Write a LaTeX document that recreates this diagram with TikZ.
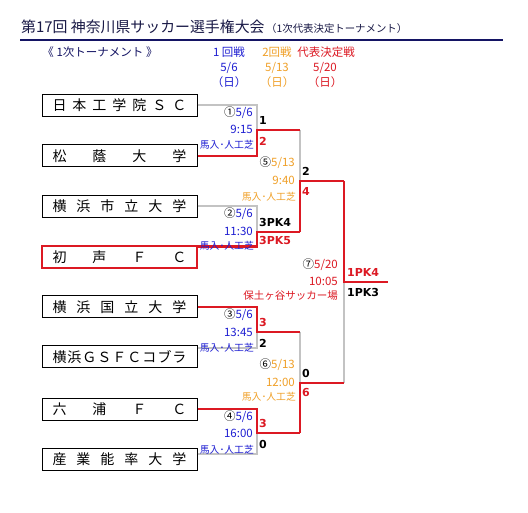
\documentclass[tikz,border=0pt]{standalone}
\usepackage{fontspec}
\setmainfont{Noto Sans CJK JP}
\newfontfamily\scorefont{DejaVu Sans}
\usetikzlibrary{calc}
\definecolor{navy}{RGB}{20,20,100}
\definecolor{titlec}{RGB}{25,25,70}
\definecolor{rblue}{RGB}{30,30,210}
\definecolor{rorange}{RGB}{240,160,40}
\definecolor{rred}{RGB}{220,25,35}
\definecolor{lgray}{RGB}{195,195,195}
\begin{document}
\begin{tikzpicture}[x=1pt,y=-1pt,
 teambox/.style={draw=black,line width=1pt,minimum width=155pt,minimum height=22pt,inner sep=0pt,font=\fontsize{14}{14}\selectfont},
 winbox/.style={teambox,draw=rred,line width=2.5pt},
 loser/.style={draw=lgray,line width=2pt},
 winner/.style={draw=rred,line width=2.5pt},
 info/.style={anchor=east,inner sep=0pt,font=\fontsize{11.5}{11.5}\selectfont},
 venue/.style={anchor=east,inner sep=0pt,font=\fontsize{9.8}{9.8}\selectfont},
 score/.style={anchor=west,inner sep=0pt,font=\scorefont\bfseries\fontsize{11}{11}\selectfont},
 head/.style={inner sep=0pt,font=\fontsize{11.5}{11.5}\selectfont},
]
\useasboundingbox[fill=white] (0,0) rectangle (528,513);

% title
\node[anchor=west,inner sep=0pt,text=titlec] (title) at (21,27)
  {{\fontsize{14.9}{15}\selectfont 第17回 神奈川県サッカー選手権大会}\,{\fontsize{10.4}{11}\selectfont （1次代表決定トーナメント）}};
\coordinate (ulA) at (20,40);
\coordinate (ulB) at (503,40);
\draw[navy,line width=2.5pt] (ulA) -- (ulB);

% headers
\node[head,text=navy] (hA) at (100,52) {《 1次トーナメント 》};
\node[head,text=rblue] (h1a) at (229,52) {1 回戦};
\node[head,text=rblue] (h1b) at (229,68) {5/6};
\node[head,text=rblue] (h1c) at (229,82) {（日）};
\node[head,text=rorange] (h2a) at (277,52) {2回戦};
\node[head,text=rorange] (h2b) at (277,68) {5/13};
\node[head,text=rorange] (h2c) at (277,82) {（日）};
\node[head,text=rred] (h3a) at (326,52) {代表決定戦};
\node[head,text=rred] (h3b) at (325,68) {5/20};
\node[head,text=rred] (h3c) at (325,82) {（日）};

% teams
\node[teambox] (t1) at (119.5,105.5) {\makebox[134pt]{日\hfill 本\hfill 工\hfill 学\hfill 院\hfill Ｓ\hfill Ｃ}};
\node[teambox] (t2) at (119.5,156) {\makebox[134pt]{松\hfill 蔭\hfill 大\hfill 学}};
\node[teambox] (t3) at (119.5,206.5) {\makebox[134pt]{横\hfill 浜\hfill 市\hfill 立\hfill 大\hfill 学}};
\node[winbox] (t4) at (119.5,257) {\makebox[134pt]{初\hfill 声\hfill Ｆ\hfill Ｃ}};
\node[teambox] (t5) at (119.5,307) {\makebox[134pt]{横\hfill 浜\hfill 国\hfill 立\hfill 大\hfill 学}};
\node[teambox] (t6) at (119.5,357) {\makebox[134pt]{横\hfill 浜\hfill Ｇ\hfill Ｓ\hfill Ｆ\hfill Ｃ\hfill コ\hfill ブ\hfill ラ}};
\node[teambox] (t7) at (119.5,409) {\makebox[134pt]{六\hfill 浦\hfill Ｆ\hfill Ｃ}};
\node[teambox] (t8) at (119.5,459) {\makebox[134pt]{産\hfill 業\hfill 能\hfill 率\hfill 大\hfill 学}};

% junction points
\coordinate (p4) at ($(t4.north east)+(0,2)$);
\coordinate (p6) at ($(t6.north east)+(0,3)$);
\coordinate (p8) at ($(t8.north east)+(0,6)$);
\coordinate (m1) at (257,130);
\coordinate (m2) at (257,232);
\coordinate (m3) at (257,332);
\coordinate (m4) at (257,433);
\coordinate (a1) at (300,130);
\coordinate (a2) at (300,232);
\coordinate (a3) at (300,332);
\coordinate (a4) at (300,433);
\coordinate (m5) at (300,181);
\coordinate (m6) at (300,383);
\coordinate (b5) at (344,181);
\coordinate (b6) at (344,383);
\coordinate (m7) at (344,282);
\coordinate (champ) at (388,282);

% losers
\draw[loser] (t1.east) -| (m1);
\draw[loser] (t3.east) -| (m2);
\draw[loser] (p6) -| (m3);
\draw[loser] (p8) -| (m4);
\draw[loser] (a1) -- (m5);
\draw[loser] (a3) -- (m6);
\draw[loser] (b6) -- (m7);

% winners
\draw[winner] (t2.east) -| (m1) -- (a1);
\draw[winner] (p4) -| (m2) -- (a2);
\draw[winner] (t5.east) -| (m3) -- (a3);
\draw[winner] (t7.east) -| (m4) -- (a4);
\draw[winner] (a2) -- (m5) -- (b5);
\draw[winner] (a4) -- (m6) -- (b6);
\draw[winner] (b5) -- (m7) -- (champ);

% match 1
\node[info] (i1a) at (253,113) {①\textcolor{rblue}{5/6}};
\node[info,text=rblue] (i1b) at (253,129) {9:15};
\node[venue,text=rblue] (i1c) at (254,145) {馬入･人工芝};
\node[score] (s1a) at (259,120) {1};
\node[score,text=rred] (s1b) at (259,141) {2};
% match 2
\node[info] (i2a) at (253,214) {②\textcolor{rblue}{5/6}};
\node[info,text=rblue] (i2b) at (253,231) {11:30};
\node[venue,text=rblue] (i2c) at (254,246) {馬入･人工芝};
\node[score] (s2a) at (259,222) {3PK4};
\node[score,text=rred] (s2b) at (259,240) {3PK5};
% match 3
\node[info] (i3a) at (253,315) {③\textcolor{rblue}{5/6}};
\node[info,text=rblue] (i3b) at (253,332) {13:45};
\node[venue,text=rblue] (i3c) at (254,348) {馬入･人工芝};
\node[score,text=rred] (s3a) at (259,322) {3};
\node[score] (s3b) at (259,343) {2};
% match 4
\node[info] (i4a) at (253,417) {④\textcolor{rblue}{5/6}};
\node[info,text=rblue] (i4b) at (253,433) {16:00};
\node[venue,text=rblue] (i4c) at (254,450) {馬入･人工芝};
\node[score,text=rred] (s4a) at (259,423) {3};
\node[score] (s4b) at (259,444) {0};
% match 5
\node[info] (i5a) at (295,163) {⑤\textcolor{rorange}{5/13}};
\node[info,text=rorange] (i5b) at (295,180) {9:40};
\node[venue,text=rorange] (i5c) at (296,197) {馬入･人工芝};
\node[score] (s5a) at (302,171) {2};
\node[score,text=rred] (s5b) at (302,191) {4};
% match 6
\node[info] (i6a) at (295,365) {⑥\textcolor{rorange}{5/13}};
\node[info,text=rorange] (i6b) at (295,382) {12:00};
\node[venue,text=rorange] (i6c) at (296,397) {馬入･人工芝};
\node[score] (s6a) at (302,373) {0};
\node[score,text=rred] (s6b) at (302,393) {6};
% match 7
\node[info] (i7a) at (338,265) {⑦\textcolor{rred}{5/20}};
\node[info,text=rred] (i7b) at (338,281) {10:05};
\node[info,text=rred,font=\fontsize{10.5}{10.5}\selectfont] (i7c) at (338,296) {保土ヶ谷サッカー場};
\node[score,text=rred] (s7a) at (347,272) {1PK4};
\node[score] (s7b) at (347,292) {1PK3};
\end{tikzpicture}
\end{document}
